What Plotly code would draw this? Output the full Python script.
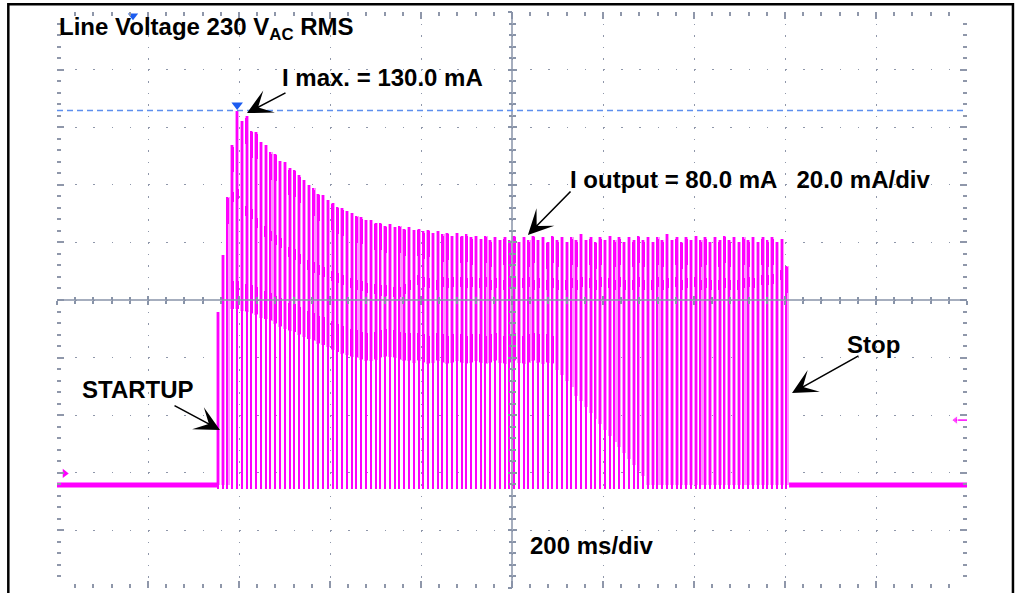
import plotly.graph_objects as go

# ---------------- data ----------------
# time axis: 200 ms/div, 10 div -> 0..2000 ms ; current axis: 20 mA/div
PULSE_START_MS = 354.0
PULSE_PERIOD_MS = 10.5

PEAK_MA = [60, 80, 100, 118, 130, 126.5, 128, 123, 122.5, 119,
           118, 115.5, 115, 112.5, 112, 110, 109.5, 107.5, 106, 104,
           103, 101, 100.5, 99, 98, 96.5, 96, 95, 94.5, 93.5,
           93, 92, 92, 91, 91, 90, 90.5, 89.5, 90, 89,
           89.5, 88.5, 89, 88, 88.5, 87.5, 88, 87, 87.5, 86.5,
           87.5, 86.5, 87, 86, 86.5, 85.5, 86.5, 85, 86, 85,
           86, 85, 86.5, 84.5, 86, 85, 86.5, 85, 86, 84.5,
           86.5, 85, 86, 84.5, 86, 85, 87, 85, 86, 84.5,
           86, 85, 86.5, 85, 86, 84.5, 86, 85, 86.5, 85,
           86, 84.5, 86, 85, 87, 85, 86, 84.5, 86, 85,
           86.5, 85, 86, 84.5, 86, 85, 86.5, 85, 86, 84.5,
           86, 85, 86, 84.5, 86, 85, 86, 84.5, 85.5, 76]

MID_MA = [None, None, None, 100, 101, 97, 95, 94, 91, 90,
          88, 86.5, 85, 84, 82.5, 81, 80, 78.5, 77.5, 76.5,
          75.5, 74.5, 74, 73, 72.5, 72, 71, 70.5, 70, 69.5,
          69, 68.5, 68.5, 68, 67.5, 67.5, 67, 67, 67, 68,
          69.5, 70.5, 71, 70.5, 70, 70.5, 69.5, 70.5, 70, 70.5,
          69.5, 70.5, 70, 70.5, 69.5, 70, 70.5, 69.5, 70, 70.5,
          69.5, 70, 70.5, 69.5, 70, 70.5, 69.5, 70, 70.5, 69.5,
          70, 69.5, 70.5, 69.5, 70, 69.5, 70.5, 69.5, 70, 69.5,
          70.5, 69.5, 70, 69.5, 70.5, 69.5, 70, 69.5, 70.5, 69.5,
          70, 69.5, 70.5, 69.5, 70, 69.5, 70.5, 69.5, 70, 69.5,
          70.5, 69.5, 70, 69.5, 70.5, 69.5, 70, 69.5, 70.5, 69.5,
          70, 70.5, 70, 70.5, 71, 71, 71.5, 72, 73, None]

LOW_MA = [None, None, None, 66, 66, 65.5, 65, 64.5, 64, 63,
          62.5, 62, 61, 60, 59, 58.5, 58, 57, 56.5, 55.5,
          55, 54, 53.5, 53, 52, 51, 50.5, 50, 49.5, 49,
          48.5, 48, 48, 48.5, 49, 49.5, 49.5, 49, 48.5, 48,
          48, 47.5, 48, 47.5, 47, 47.5, 48, 47.5, 47, 47.5,
          48, 47.5, 47, 47.5, 48, 47.5, 47, 47.5, 48, 47.5,
          47, 47.5, 48, 47.5, 47, 47.5, 48, 47.5, 47, 47.5,
          47, None, None, None, None, None, None, None, None, None,
          None, None, None, None, None, None, None, None, None, None,
          None, None, None, None, None, None, None, None, None, None,
          None, None, None, None, None, None, None, None, None, None,
          None, None, None, None, None, None, None, None, None, None]

FLOOR_MA = [0, 0, 0, 61, 61, 60.5, 60, 59.5, 59, 58,
            57.5, 57, 56, 55, 54, 53.5, 53, 52, 51.5, 50.5,
            50, 49, 48.5, 48, 47, 46, 45.5, 45, 44.5, 44,
            43.5, 43, 43, 43.5, 44, 44.5, 44.5, 44, 43.5, 43,
            43, 42.5, 43, 42.5, 42, 42.5, 43, 42.5, 42, 42.5,
            43, 42.5, 42, 42.5, 43, 42.5, 42, 42.5, 43, 42.5,
            42, 42.5, 43, 42.5, 42, 42.5, 43, 42.5, 42, 42.5,
            42, 40, 38, 36, 34, 31, 29, 27, 25, 23,
            21, 19, 17, 15, 13, 11, 9, 7, 5, 3,
            0, 0, 0, 0, 0, 0, 0, 0, 0, 0,
            0, 0, 0, 0, 0, 0, 0, 0, 0, 0,
            0, 0, 0, 0, 0, 0, 0, 0, 0, 0]

BASE_PRE_MS = [0, 354]
BASE_POST_MS = [1609, 2000]
BASE_MA = [0, 0]

I_MAX_MA = 130.0
I_MAX_MS = 396
TRIG_POS_MS = 167
TRIG_LEVEL_MA = 22.5
GND_MA = 4

X_RANGE = [0, 2000]
Y_RANGE = [-35.8, 164.2]
Y_GRID0 = 4.2

# ---------------- style ----------------
MAG = "#ff00ff"
PINK = "#ff96ff"
BLUE = "#1c5cf0"
DASHBLUE = "#5d8fee"
GRID = "#8f97aa"
CROSS = "#8893a8"
FONT = "Liberation Sans, Arial, sans-serif"

n = len(PEAK_MA)
pt = [PULSE_START_MS + i * PULSE_PERIOD_MS for i in range(n)]

fig = go.Figure()

# pink fill part of each pulse
fig.add_trace(go.Bar(x=pt, y=[p - f for p, f in zip(PEAK_MA, FLOOR_MA)], base=FLOOR_MA,
                     width=8.6, marker=dict(color=PINK, line=dict(width=0)), hoverinfo="skip"))
# magenta pulse edges
fig.add_trace(go.Bar(x=pt, y=[p + 1.5 for p in PEAK_MA], base=[-1.5] * n,
                     width=2.8, marker=dict(color=MAG, line=dict(width=0)), hoverinfo="skip"))
# dense top of pulses
fig.add_trace(go.Bar(x=pt, y=[9] * n, base=[p - 9.5 for p in PEAK_MA],
                     width=5.6, marker=dict(color=MAG, line=dict(width=0)), hoverinfo="skip"))
# middle band
mt = [t for t, m in zip(pt, MID_MA) if m is not None]
mv = [m for m in MID_MA if m is not None]
fig.add_trace(go.Bar(x=mt, y=[3.5] * len(mv), base=[m - 1.75 for m in mv],
                     width=6.0, marker=dict(color=MAG, line=dict(width=0)), hoverinfo="skip"))
# lower band
lt = [t for t, m in zip(pt, LOW_MA) if m is not None]
lv = [m for m in LOW_MA if m is not None]
fig.add_trace(go.Bar(x=lt, y=[9.5] * len(lv), base=[m - 4.75 for m in lv],
                     width=6.0, marker=dict(color=MAG, line=dict(width=0)), hoverinfo="skip"))

# baseline before / after
for bx in (BASE_PRE_MS, BASE_POST_MS):
    fig.add_trace(go.Scatter(x=bx, y=BASE_MA, mode="lines",
                             line=dict(color=MAG, width=5), hoverinfo="skip"))

# markers
fig.add_trace(go.Scatter(x=[TRIG_POS_MS], y=[Y_RANGE[1] - 1.3], mode="markers", cliponaxis=False,
                         marker=dict(symbol="triangle-down", size=9, color=BLUE), hoverinfo="skip"))
fig.add_trace(go.Scatter(x=[I_MAX_MS], y=[I_MAX_MA + 1.9], mode="markers", cliponaxis=False,
                         marker=dict(symbol="triangle-down", size=10, color=BLUE), hoverinfo="skip"))
fig.add_trace(go.Scatter(x=[17], y=[GND_MA], mode="markers", cliponaxis=False,
                         marker=dict(symbol="triangle-right", size=8, color=MAG), hoverinfo="skip"))
fig.add_trace(go.Scatter(x=[1975, 2000], y=[TRIG_LEVEL_MA, TRIG_LEVEL_MA], mode="lines+markers",
                         cliponaxis=False, line=dict(color=MAG, width=1.5),
                         marker=dict(symbol="triangle-left", size=[8, 0], color=MAG), hoverinfo="skip"))

# dummy traces for center-cross tick axes
for xa_, ya_ in (("x2", "y"), ("x3", "y"), ("x", "y2"), ("x", "y3")):
    fig.add_trace(go.Scatter(x=[None], y=[None], xaxis=xa_, yaxis=ya_, hoverinfo="skip"))

common = dict(showticklabels=False, zeroline=False, fixedrange=True)
xa = dict(range=X_RANGE, tick0=0, dtick=200, showgrid=True, gridcolor=GRID, gridwidth=1.2,
          griddash="1.5px,10.02px", ticks="inside", ticklen=7, tickwidth=1.5, tickcolor=GRID,
          minor=dict(ticks="inside", ticklen=4, dtick=40, tick0=0, tickcolor=GRID, tickwidth=1.5,
                     showgrid=False),
          mirror="ticks", showline=False, **common)
ya = dict(range=Y_RANGE, tick0=Y_GRID0, dtick=20, showgrid=True, gridcolor=GRID, gridwidth=1.2,
          griddash="1.5px,16.7px", ticks="inside", ticklen=7, tickwidth=1.5, tickcolor=GRID,
          minor=dict(ticks="inside", ticklen=4, dtick=4, tick0=Y_GRID0, tickcolor=GRID, tickwidth=1.5,
                     showgrid=False),
          mirror="ticks", showline=False, **common)

def center_axis(rng, t0, dt, mdt, over, side_ticks):
    return dict(range=rng, overlaying=over, anchor="free", position=0.5, showgrid=False,
                tick0=t0, dtick=dt, ticks=side_ticks, ticklen=4, tickwidth=1.5, tickcolor=CROSS,
                minor=dict(ticks=side_ticks, ticklen=3, dtick=mdt, tick0=t0, tickcolor=CROSS,
                           tickwidth=1.5, showgrid=False),
                showline=False, **common)

fig.update_layout(
    width=1015, height=593,
    margin=dict(l=57, r=48, t=12, b=5),
    paper_bgcolor="white", plot_bgcolor="white",
    barmode="overlay", bargap=0, showlegend=False,
    xaxis=xa, yaxis=ya,
    xaxis2=center_axis(X_RANGE, 0, 200, 40, "x", "outside"),
    xaxis3=center_axis(X_RANGE, 0, 200, 40, "x", "inside"),
    yaxis2=center_axis(Y_RANGE, Y_GRID0, 20, 4, "y", "outside"),
    yaxis3=center_axis(Y_RANGE, Y_GRID0, 20, 4, "y", "inside"),
    font=dict(family=FONT, color="black"),
)

shapes = [
    dict(type="line", xref="x", yref="paper", x0=1000, x1=1000, y0=0, y1=1,
         line=dict(color=CROSS, width=1.5), layer="above"),
    dict(type="line", xref="paper", yref="y", x0=0, x1=1, y0=64.2, y1=64.2,
         line=dict(color=CROSS, width=1.5), layer="above"),
    dict(type="line", xref="paper", yref="y", x0=0, x1=1, y0=I_MAX_MA, y1=I_MAX_MA,
         line=dict(color=DASHBLUE, width=1.5, dash="6px,4px"), layer="above"),
    dict(type="rect", xref="paper", yref="paper", x0=-0.0535, x1=1.0505, y0=-0.2, y1=1.0135,
         line=dict(color="black", width=2.5), layer="above"),
]
fig.update_layout(shapes=shapes)

TXT = dict(family=FONT, size=24, color="black")
texts = [
    ("<b>Line Voltage 230 V<sub>AC</sub> RMS</b>", 0, 158.5),
    ("<b>I max. = 130.0 mA</b>", 490, 141.3),
    ("<b>I output = 80.0 mA   20.0 mA/div</b>", 1123, 105.9),
    ("<b>STARTUP</b>", 50.5, 33.0),
    ("<b>Stop</b>", 1732, 48.9),
    ("<b>200 ms/div</b>", 1035, -20.9),
]
ann = []
for t, x, y in texts:
    ann.append(dict(text=t, x=x, y=y, xref="x", yref="y", xanchor="left", yanchor="middle",
                    showarrow=False, font=TXT))
arrows = [
    (417.6, 129.1, 505.5, 136.4),
    (1035, 86.8, 1131.9, 102.4),
    (358.2, 19.1, 255, 27.8),
    (1615.4, 31.9, 1764.8, 45.1),
]
for x, y, ax, ay in arrows:
    ann.append(dict(text="", x=x, y=y, ax=ax, ay=ay, xref="x", yref="y", axref="x", ayref="y",
                    showarrow=True, arrowhead=3, arrowsize=2.6, arrowwidth=1.6,
                    arrowcolor="black", standoff=0))
fig.update_layout(annotations=ann)

fig.write_html("out.html", config={"displayModeBar": False},
               post_script="document.body.style.margin='0';document.body.style.overflow='hidden';")
